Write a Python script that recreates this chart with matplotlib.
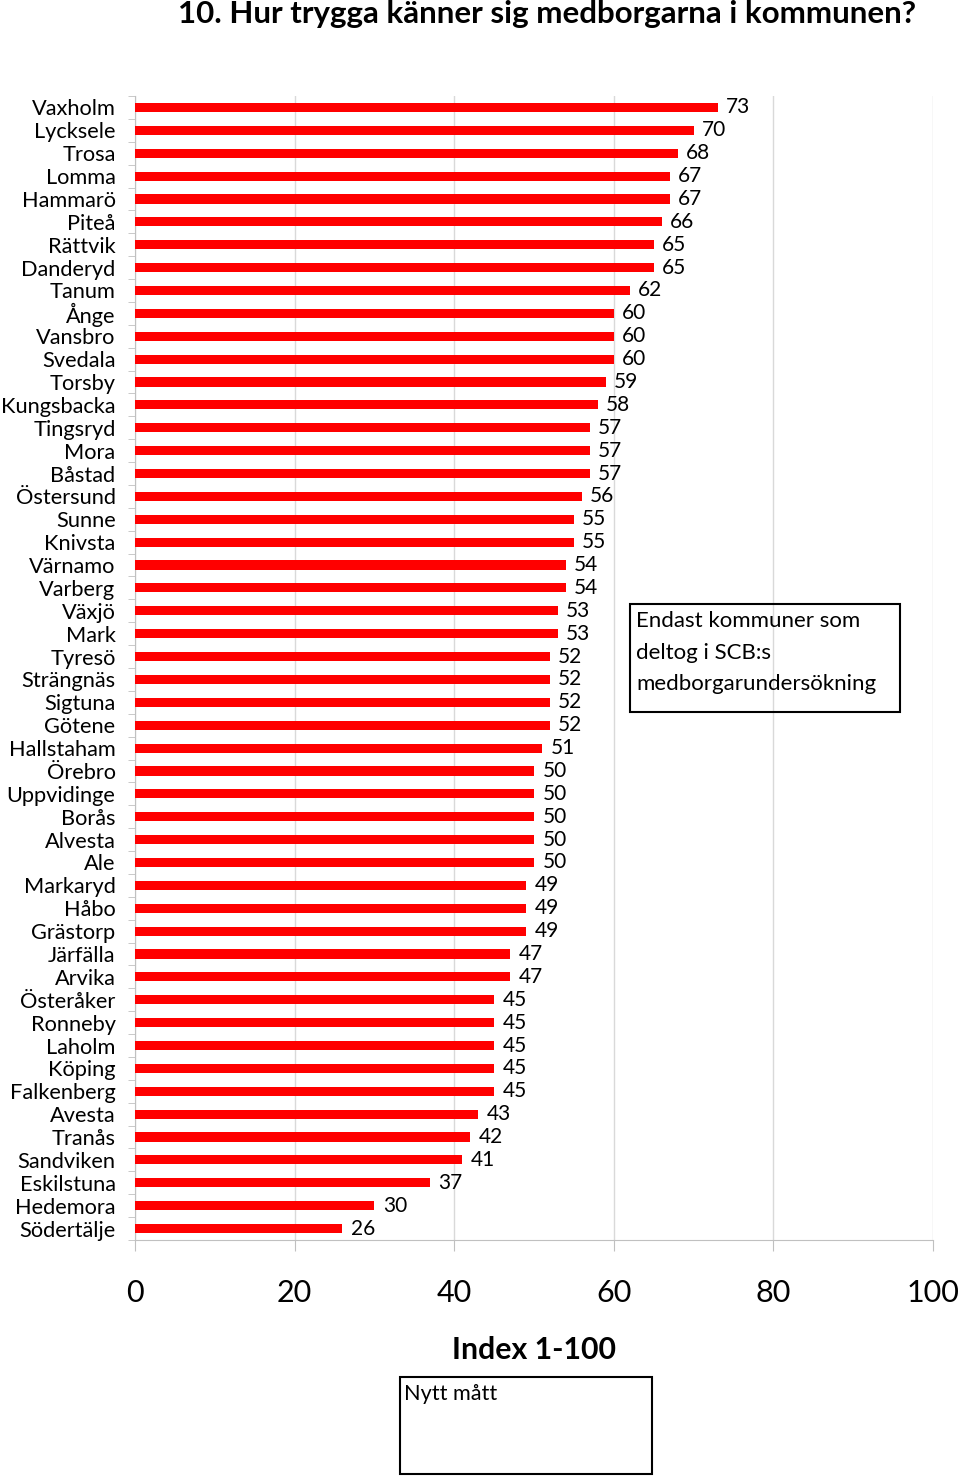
import numpy as np
from matplotlib import pyplot as plt
from matplotlib.patches import Rectangle

plt.rcParams['font.family'] = ['Lato', 'DejaVu Sans']

kommuner = ["Vaxholm", "Lycksele", "Trosa", "Lomma", "Hammarö", "Piteå", "Rättvik",
            "Danderyd", "Tanum", "Ånge", "Vansbro", "Svedala", "Torsby", "Kungsbacka",
            "Tingsryd", "Mora", "Båstad", "Östersund", "Sunne", "Knivsta", "Värnamo",
            "Varberg", "Växjö", "Mark", "Tyresö", "Strängnäs", "Sigtuna", "Götene",
            "Hallstaham", "Örebro", "Uppvidinge", "Borås", "Alvesta", "Ale", "Markaryd",
            "Håbo", "Grästorp", "Järfälla", "Arvika", "Österåker", "Ronneby", "Laholm",
            "Köping", "Falkenberg", "Avesta", "Tranås", "Sandviken", "Eskilstuna",
            "Hedemora", "Södertälje"]
index = [73, 70, 68, 67, 67, 66, 65, 65, 62, 60, 60, 60, 59, 58, 57, 57, 57, 56, 55, 55,
         54, 54, 53, 53, 52, 52, 52, 52, 51, 50, 50, 50, 50, 50, 49, 49, 49, 47, 47, 45,
         45, 45, 45, 45, 43, 42, 41, 37, 30, 26]
xticks = [0, 20, 40, 60, 80, 100]

W, H = 960, 1479
fig = plt.figure(figsize=(W / 100, H / 100), dpi=100)
ax = fig.add_axes([135 / W, 1 - 1240 / H, (933 - 135) / W, (1240 - 96) / H])

y = np.arange(len(kommuner))
ax.barh(y, index, height=0.4, color="#ff0000", zorder=3)
for yi, v in zip(y, index):
    ax.annotate(str(v), (v, yi), xytext=(6, 0), textcoords="offset points",
                va="center", ha="left", fontsize=15)

ax.set_ylim(len(kommuner) - 0.5, -0.5)
ax.set_xlim(0, 100)
ax.set_yticks(y)
ax.set_yticklabels(kommuner, fontsize=15.7)
ax.set_yticks(np.arange(len(kommuner) + 1) - 0.5, minor=True)
ax.tick_params(axis="y", which="major", length=0, pad=14)
ax.tick_params(axis="y", which="minor", length=5, color="#c0c0c0")
ax.set_xticks(xticks)
ax.tick_params(axis="x", length=8, color="#c0c0c0", labelsize=22, pad=20)
ax.grid(axis="x", color="#d9d9d9", linewidth=1, zorder=0)
for s in ["top", "right"]:
    ax.spines[s].set_visible(False)
for s in ["left", "bottom"]:
    ax.spines[s].set_color("#c0c0c0")

ax.set_xlabel("Index 1-100", fontsize=21.8, fontweight="bold", labelpad=21)
fig.text(547 / W, 1 - 14 / H, "10. Hur trygga känner sig medborgarna i kommunen?",
         ha="center", va="center", fontsize=22.5, fontweight="bold")

# textrutor
fig.patches.append(Rectangle((630 / W, 1 - 712 / H), 270 / W, 108 / H,
                             transform=fig.transFigure, fill=False, edgecolor="black", lw=1.5))
fig.text(636 / W, 1 - 611 / H, "Endast kommuner som\ndeltog i SCB:s\nmedborgarundersökning",
         ha="left", va="top", fontsize=16, linespacing=1.72)
fig.patches.append(Rectangle((400 / W, 1 - 1474 / H), 252 / W, 97 / H,
                             transform=fig.transFigure, fill=False, edgecolor="black", lw=1.5))
fig.text(404 / W, 1 - 1384 / H, "Nytt mått", ha="left", va="top", fontsize=15.6)

plt.savefig("out.png", dpi=100)
